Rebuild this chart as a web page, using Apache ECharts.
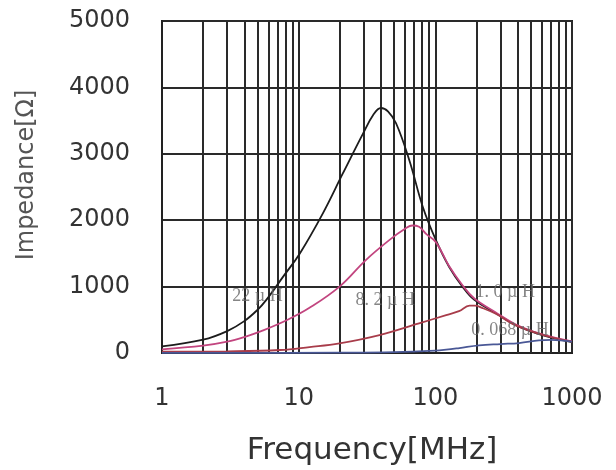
<!DOCTYPE html>
<html>
<head>
<meta charset="utf-8">
<script src="https://cdn.jsdelivr.net/npm/echarts@6/dist/echarts.min.js"></script>
<style>
  html, body { margin: 0; padding: 0; background: #fff; }
  #chart { width: 616px; height: 470px; }
</style>
</head>
<body>
<div id="chart"></div>
<script>
// Impedance vs frequency for four inductance values (log frequency axis)
const xTicks = [1, 10, 100, 1000];
const yTicks = [0, 1000, 2000, 3000, 4000, 5000];
// minor decade grid lines: 2..9 in each decade
const minorGrid = [2, 3, 4, 5, 6, 7, 8, 9, 20, 30, 40, 50, 60, 70, 80, 90, 200, 300, 400, 500, 600, 700, 800, 900];

const curve22uH = [
  [1, 100], [2, 200], [3, 330], [4, 480], [5, 650], [5.8, 800], [7.7, 1150],
  [10.2, 1500], [15, 2100], [21, 2700], [29.5, 3300], [35, 3580], [40, 3690],
  [45, 3640], [51.6, 3460], [64.6, 2900], [81, 2200], [101, 1700], [126, 1300],
  [158, 1000], [193, 800], [277, 600], [388, 420], [607, 270], [1000, 165]
];
const curve8_2uH = [
  [1, 55], [2, 110], [3, 170], [4, 240], [5.5, 340], [8.3, 500], [12, 680],
  [19.9, 1000], [31, 1400], [46, 1700], [60, 1870], [68, 1920], [76, 1900],
  [86, 1790], [101, 1670], [126, 1310], [158, 1020], [193, 820], [277, 610],
  [388, 430], [607, 280], [1000, 175]
];
const curve1_0uH = [
  [1, 20], [3, 25], [7.3, 45], [12, 90], [19.9, 146], [39, 271], [76, 447],
  [120, 570], [149, 630], [178, 712], [195, 712], [220, 680], [277, 590],
  [388, 415], [607, 275], [1000, 170]
];
const curve0_068uH = [
  [1, 2], [20, 5], [50, 12], [100, 35], [120, 50], [150, 75], [209, 115],
  [300, 135], [410, 150], [573, 190], [700, 198], [1000, 170]
];
const seriesNames = ['22 µ H', '8. 2 µ H', '1. 0 µ H', '0. 068 µ H'];
// where each curve's tag sits, in [MHz, Ω]
const tagPositions = [[5.0, 860], [43, 800], [325, 920], [352, 346]];

const chart = echarts.init(document.getElementById('chart'), null, { renderer: 'canvas' });

function curve(name, data, color) {
  return {
    name: name, type: 'line', data: data, smooth: 0.4, symbol: 'none',
    lineStyle: { color: color, width: 1.8 }, z: 5, animation: false
  };
}

const gridLine = { color: '#2a2a2a', width: 2 };

chart.setOption({
  animation: false,
  backgroundColor: '#ffffff',
  grid: { left: 162, right: 44, top: 21, bottom: 117, show: true, borderColor: '#222', borderWidth: 2 },
  xAxis: {
    type: 'log', logBase: 10, min: xTicks[0], max: xTicks[xTicks.length - 1],
    axisLine: { show: true, lineStyle: { color: '#222', width: 2 } },
    axisTick: { show: false },
    axisLabel: {
      margin: 34, fontSize: 24, color: '#333', fontFamily: 'DejaVu Sans',
      formatter: v => (xTicks.indexOf(Math.round(v)) >= 0 ? String(Math.round(v)) : '')
    },
    splitLine: { show: true, lineStyle: gridLine }
  },
  yAxis: {
    type: 'value', min: yTicks[0], max: yTicks[yTicks.length - 1], interval: 1000,
    axisLine: { show: true, lineStyle: { color: '#222', width: 2 } },
    axisTick: { show: false },
    axisLabel: { margin: 32, fontSize: 24, color: '#333', fontFamily: 'DejaVu Sans',
                 formatter: v => String(v) },
    splitLine: { show: true, lineStyle: gridLine }
  },
  graphic: [
    {
      type: 'text', x: 27, y: 175, rotation: Math.PI / 2,
      style: { text: 'Impedance[Ω]', fontSize: 24, fontFamily: 'DejaVu Sans', fill: '#555',
               textAlign: 'center', textVerticalAlign: 'middle' }
    },
    {
      type: 'text', x: 372, y: 451,
      style: { text: 'Frequency[MHz]', fontSize: 31, fontFamily: 'DejaVu Sans', fill: '#333',
               textAlign: 'center', textVerticalAlign: 'middle' }
    }
  ],
  series: [
    {
      type: 'line', data: [], silent: true, z: 2,
      markLine: {
        silent: true, symbol: 'none', animation: false,
        label: { show: false },
        lineStyle: { color: gridLine.color, width: gridLine.width, type: 'solid' },
        data: minorGrid.map(v => ({ xAxis: v }))
      }
    },
    curve(seriesNames[0], curve22uH, '#1c1c1c'),
    curve(seriesNames[1], curve8_2uH, '#c2457f'),
    curve(seriesNames[2], curve1_0uH, '#a83c4a'),
    curve(seriesNames[3], curve0_068uH, '#4a5896'),
    {
      type: 'scatter', symbolSize: 0, z: 6, silent: true,
      data: tagPositions.map((p, i) => ({ value: p, name: seriesNames[i] })),
      label: {
        show: true, position: 'inside', formatter: '{b}',
        fontFamily: 'Liberation Serif', fontSize: 18, color: '#666'
      }
    }
  ]
});
</script>
</body>
</html>
